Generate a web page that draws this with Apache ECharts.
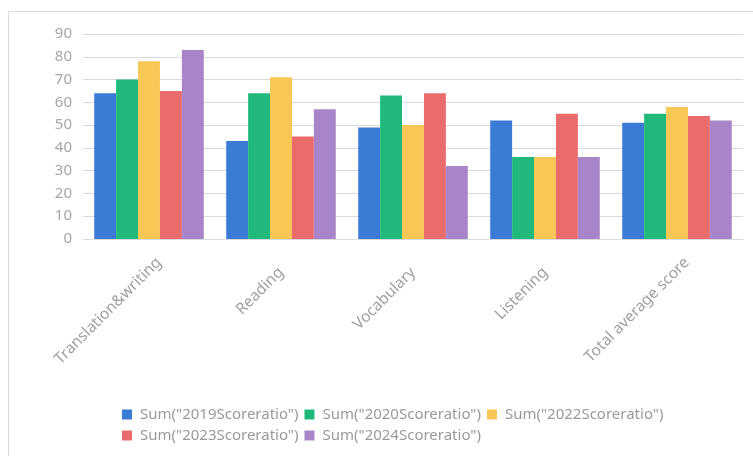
<!DOCTYPE html>
<html><head><meta charset="utf-8">
<script src="https://cdn.jsdelivr.net/npm/echarts@6/dist/echarts.min.js"></script>
<style>html,body{margin:0;padding:0;background:#fff}#c{width:753px;height:456px}</style>
</head><body><div id="c"></div>
<script>
const categories = ["Translation&writing", "Reading", "Vocabulary", "Listening", "Total average score"];
const seriesNames = ['Sum("2019Scoreratio")', 'Sum("2020Scoreratio")', 'Sum("2022Scoreratio")', 'Sum("2023Scoreratio")', 'Sum("2024Scoreratio")'];
const s2019 = [64, 43, 49, 52, 51];
const s2020 = [70, 64, 63, 36, 55];
const s2022 = [78, 71, 50, 36, 58];
const s2023 = [65, 45, 64, 55, 54];
const s2024 = [83, 57, 32, 36, 52];
const yTicks = [0, 10, 20, 30, 40, 50, 60, 70, 80, 90];
const colors = ["#3a7bd5", "#20b97b", "#f8c756", "#e96b6b", "#a884c9"];
const allData = [s2019, s2020, s2022, s2023, s2024];

// label styling: long labels sit a little further right in the reference
const longLabelPad = [28, -14, 0, 0];
const catItems = categories.map(c => c.length > 15 ? {value: c, textStyle: {padding: longLabelPad}} : c);

const chart = echarts.init(document.getElementById('c'), null, {renderer: 'canvas'});
const font = '"Noto Sans", "Open Sans", sans-serif';
chart.setOption({
  animation: false,
  color: colors,
  graphic: [{type: 'rect', shape: {x: 8.5, y: 11.5, width: 800, height: 500}, style: {fill: 'none', stroke: '#d9d9d9', lineWidth: 1}, z: -1}],
  grid: {left: 83, right: 10, top: 34, bottom: 217},
  legend: {
    data: seriesNames, left: 117, top: 402, width: 580,
    icon: 'rect', itemWidth: 10, itemHeight: 10, itemGap: 6,
    textStyle: {color: '#9a9a9a', fontSize: 15, lineHeight: 10, fontFamily: font, padding: [0, 0, 0, 3]}
  },
  xAxis: {
    type: 'category', data: catItems,
    axisLine: {lineStyle: {color: '#d9d9d9'}},
    axisTick: {show: false},
    axisLabel: {rotate: 45, color: '#a0a0a0', fontSize: 15.5, fontFamily: font, margin: 31, interval: 0}
  },
  yAxis: {
    type: 'value', min: yTicks[0], max: yTicks[yTicks.length - 1], interval: 10,
    axisLine: {show: false}, axisTick: {show: false},
    axisLabel: {color: '#a6a6a6', fontSize: 15, fontFamily: font, margin: 11},
    splitLine: {lineStyle: {color: '#d9d9d9', width: 1}}
  },
  series: seriesNames.map((n, i) => ({
    name: n, type: 'bar', data: allData[i], barGap: 0, barCategoryGap: '17%'
  }))
});
</script></body></html>
